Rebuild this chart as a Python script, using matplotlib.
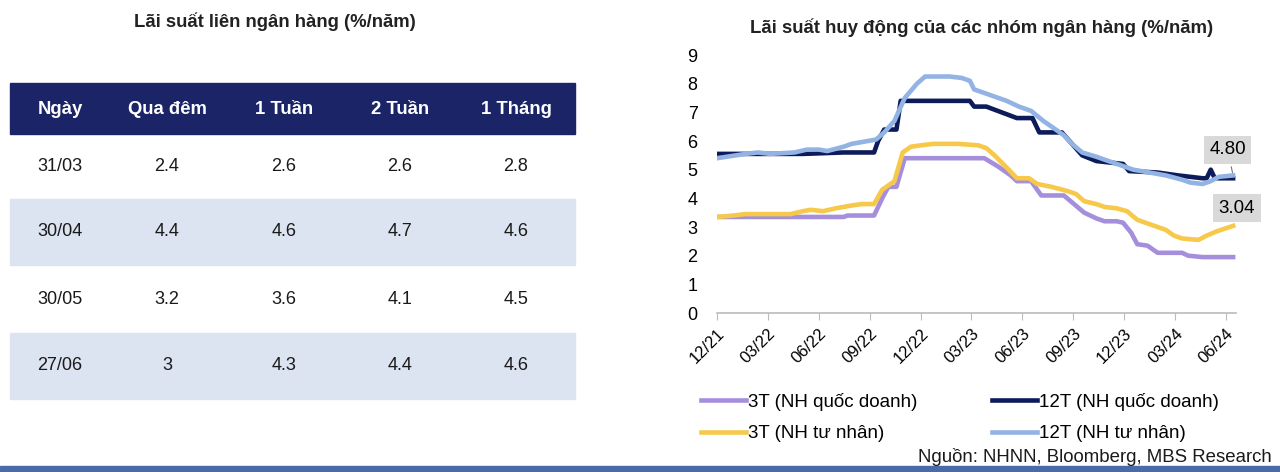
import matplotlib.pyplot as plt
import matplotlib.patches as patches

plt.rcParams['font.family'] = ['Liberation Sans', 'DejaVu Sans']

# bang lai suat lien ngan hang
dates = ['31/03', '30/04', '30/05', '27/06']
qua_dem = ['2.4', '4.4', '3.2', '3']
tuan_1 = ['2.6', '4.6', '3.6', '4.3']
tuan_2 = ['2.6', '4.7', '4.1', '4.4']
thang_1 = ['2.8', '4.6', '4.5', '4.6']
headers = ['Ngày', 'Qua đêm', '1 Tuần', '2 Tuần', '1 Tháng']

# lai suat huy dong, x = so thang tu 12/2021
m_3t_qd = [0, 7.46, 7.70, 9.26, 9.74, 10.10, 10.58, 11.07, 15.76, 16.60, 17.32, 17.68, 18.52, 19.12,
           20.45, 21.05, 21.65, 22.37, 22.85, 23.57, 23.94, 24.42, 24.78, 25.38, 25.98, 27.42,
           27.78, 28.63, 30.43]
v_3t_qd = [3.35, 3.35, 3.4, 3.4, 4.0, 4.4, 4.4, 5.4, 5.4, 5.1, 4.8, 4.6, 4.6, 4.1,
           4.1, 3.8, 3.5, 3.3, 3.2, 3.2, 3.15, 2.8, 2.4, 2.35, 2.1, 2.1,
           2.0, 1.95, 1.95]

m_12t_qd = [0, 5.05, 7.46, 9.26, 9.50, 9.86, 10.58, 10.83, 14.91, 15.16, 15.88, 17.68, 18.52, 18.60,
            19.00, 20.33, 21.53, 22.37, 23.94, 24.30, 25.98, 27.18, 28.63, 28.87, 29.11, 29.35,
            30.43]
v_12t_qd = [5.55, 5.55, 5.6, 5.6, 6.0, 6.4, 6.4, 7.4, 7.4, 7.2, 7.2, 6.8, 6.8, 6.8,
            6.3, 6.3, 5.5, 5.3, 5.2, 4.95, 4.9, 4.8, 4.7, 4.7, 5.0, 4.7,
            4.7]

m_3t_tn = [0, 0.96, 1.68, 4.33, 5.05, 5.53, 6.25, 6.98, 7.94, 8.54, 9.26, 9.74, 10.46, 10.95,
           11.43, 12.03, 12.75, 14.19, 15.40, 15.88, 16.36, 17.20, 17.68, 18.40, 18.88, 19.73,
           20.69, 21.17, 21.65, 22.37, 22.85, 23.57, 24.18, 24.78, 25.74, 26.46, 26.94, 27.42,
           28.39, 28.87, 29.47, 30.43]
v_3t_tn = [3.35, 3.4, 3.45, 3.45, 3.55, 3.6, 3.55, 3.65, 3.75, 3.8, 3.8, 4.3, 4.6, 5.6,
           5.8, 5.85, 5.9, 5.9, 5.85, 5.75, 5.5, 5.0, 4.7, 4.7, 4.5, 4.4,
           4.25, 4.15, 3.9, 3.8, 3.7, 3.65, 3.55, 3.25, 3.05, 2.9, 2.7, 2.6,
           2.55, 2.7, 2.85, 3.04]

m_12t_tn = [0, 1.68, 2.41, 3.13, 4.57, 5.29, 6.01, 6.50, 7.46, 7.94, 8.90, 9.38, 9.86, 10.46,
            11.07, 11.79, 12.27, 13.71, 14.43, 14.91, 15.16, 16.12, 17.08, 17.80, 18.52, 19.24,
            19.97, 20.45, 20.93, 21.53, 22.37, 23.09, 23.82, 24.54, 25.50, 26.46, 27.42, 27.90,
            28.63, 29.11, 29.59, 30.43]
v_12t_tn = [5.4, 5.55, 5.6, 5.55, 5.6, 5.7, 5.7, 5.65, 5.8, 5.9, 6.0, 6.05, 6.3, 6.7,
            7.5, 8.0, 8.25, 8.25, 8.2, 8.1, 7.8, 7.6, 7.4, 7.2, 7.05, 6.7,
            6.4, 6.2, 5.9, 5.6, 5.45, 5.3, 5.15, 5.0, 4.9, 4.8, 4.65, 4.55,
            4.5, 4.6, 4.75, 4.8]

tick_pos = [0, 3, 6, 9, 12, 15, 18, 21, 24, 27, 30]
tick_labels = ['12/21', '03/22', '06/22', '09/22', '12/22', '03/23', '06/23', '09/23',
               '12/23', '03/24', '06/24']

navy = '#0d1b5a'
purple = '#a58fdc'
yellow = '#f6c94a'
lightblue = '#92b3e4'

fig = plt.figure(figsize=(12.8, 4.72), dpi=100)

# nen: truc phu trong toa do pixel
bg = fig.add_axes([0, 0, 1, 1])
bg.set_xlim(0, 1280)
bg.set_ylim(472, 0)
bg.axis('off')

bg.text(275, 22, 'Lãi suất liên ngân hàng (%/năm)', ha='center', va='center',
        fontsize=13.3, fontweight='bold', color='#222222')

col_x = [60, 167, 284, 400, 516]
bg.add_patch(patches.Rectangle((10, 83), 565, 51, color='#1b2466'))
for x, h in zip(col_x, headers):
    bg.text(x, 109, h, ha='center', va='center', fontsize=13.3, fontweight='bold', color='white')

row_top = [134, 199, 265, 333]
row_h = [65, 66, 68, 66]
for i in range(len(dates)):
    if i % 2 == 1:
        bg.add_patch(patches.Rectangle((10, row_top[i]), 565, row_h[i], color='#dce3f1'))
    yc = row_top[i] + row_h[i] / 2
    vals = [dates[i], qua_dem[i], tuan_1[i], tuan_2[i], thang_1[i]]
    for x, v in zip(col_x, vals):
        bg.text(x, yc, v, ha='center', va='center', fontsize=13, color='#1a1a1a')

bg.add_patch(patches.Rectangle((0, 466), 1280, 6, color='#4a6aa8'))

bg.text(982, 28, 'Lãi suất huy động của các nhóm ngân hàng (%/năm)', ha='center', va='center',
        fontsize=13.4, fontweight='bold', color='#222222')
bg.text(1272, 457, 'Nguồn: NHNN, Bloomberg, MBS Research', ha='right', va='center',
        fontsize=13.4, color='#1a1a1a')

# bieu do duong
ax = fig.add_axes([717 / 1280, (472 - 313) / 472, 519 / 1280, (313 - 55) / 472])
ax.plot(m_3t_qd, v_3t_qd, color=purple, lw=3.3, label='3T (NH quốc doanh)', zorder=2)
ax.plot(m_12t_qd, v_12t_qd, color=navy, lw=3.3, label='12T (NH quốc doanh)', zorder=3)
ax.plot(m_3t_tn, v_3t_tn, color=yellow, lw=3.3, label='3T (NH tư nhân)', zorder=3)
ax.plot(m_12t_tn, v_12t_tn, color=lightblue, lw=3.3, label='12T (NH tư nhân)', zorder=4)

ax.set_xlim(0, 30.6)
ax.set_ylim(0, 9)
ax.set_yticks(range(0, 10))
ax.set_xticks(tick_pos)
ax.set_xticklabels(tick_labels, rotation=45, ha='right', rotation_mode='anchor')
ax.tick_params(axis='y', length=0, labelsize=13, pad=14)
ax.tick_params(axis='x', length=5, color='#bbbbbb', labelsize=12, pad=4)
for s in ['top', 'right', 'left']:
    ax.spines[s].set_visible(False)
ax.spines['bottom'].set_color('#bbbbbb')
ax.spines['bottom'].set_linewidth(1.2)

ax.annotate(f'{v_12t_tn[-1]:.2f}', xy=(m_12t_tn[-1], v_12t_tn[-1]), xytext=(30.1, 5.69),
            ha='center', va='center', fontsize=13.5,
            bbox=dict(boxstyle='square,pad=0.3', fc='#d9d9d9', ec='none'),
            arrowprops=dict(arrowstyle='-', color='#777777', lw=0.8), annotation_clip=False)
ax.annotate(f'{v_3t_tn[-1]:.2f}', xy=(m_3t_tn[-1], v_3t_tn[-1]), xytext=(30.65, 3.66),
            ha='center', va='center', fontsize=13.5,
            bbox=dict(boxstyle='square,pad=0.3', fc='#d9d9d9', ec='none'),
            annotation_clip=False)

handles, labels = ax.get_legend_handles_labels()
order = [0, 2, 1, 3]
fig.legend([handles[i] for i in order], [labels[i] for i in order], ncol=2,
           loc='upper left', bbox_to_anchor=(684 / 1280, 1 - 376 / 472), frameon=False,
           fontsize=13.5, handlelength=2.4, handletextpad=0.1, columnspacing=4.0,
           labelspacing=0.75)

fig.savefig('out.png', dpi=100)
